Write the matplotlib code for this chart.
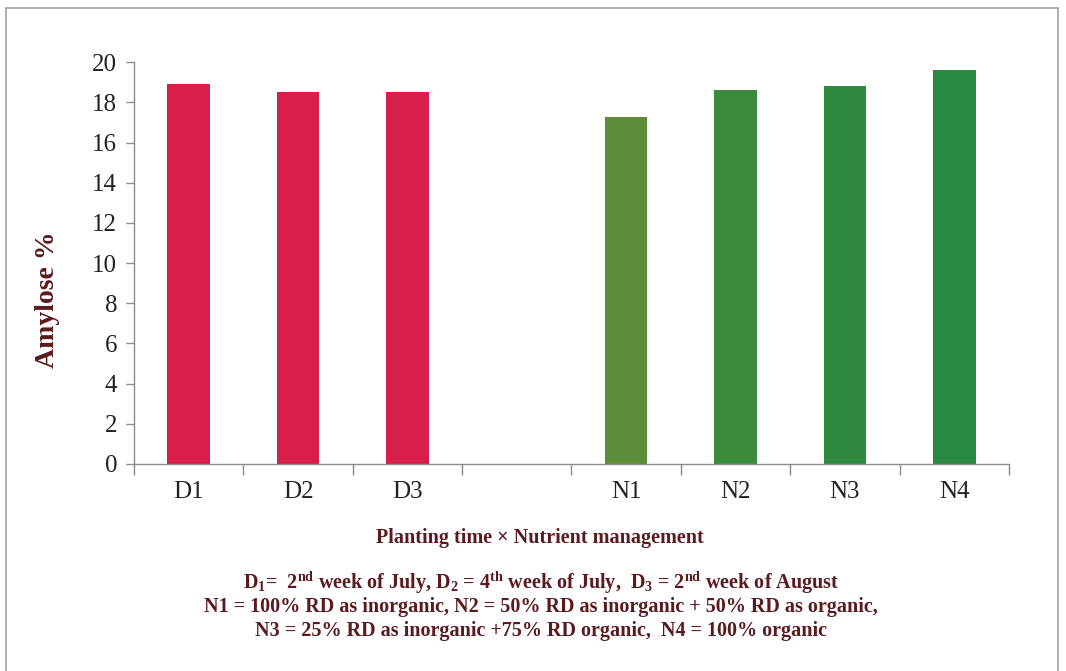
import matplotlib
matplotlib.use("Agg")
import matplotlib.pyplot as plt
from matplotlib.patches import Rectangle
import numpy as np

plt.rcParams['font.family'] = ['Liberation Serif', 'DejaVu Serif']
plt.rcParams['mathtext.fontset'] = 'custom'
plt.rcParams['mathtext.rm'] = 'Liberation Serif'
plt.rcParams['mathtext.bf'] = 'Liberation Serif:bold'
plt.rcParams['mathtext.it'] = 'Liberation Serif:italic'

# planting time and nutrient management treatments (one empty slot between groups)
categories = ["D1", "D2", "D3", "", "N1", "N2", "N3", "N4"]
amylose = [18.9, 18.5, 18.5, None, 17.3, 18.6, 18.8, 19.6]
bar_colors = ["#D81E4A", "#D81E4A", "#D81E4A", None,
              "#5E8D3A", "#3B8B3C", "#2F8A3E", "#2B8A41"]

y_ticks = list(range(0, 21, 2))

x_title = "Planting time \u00d7 Nutrient management"
notes = [
    r"$\mathbf{D_1}$=  2$^{\mathbf{nd}}$ week of July, $\mathbf{D_2}$ = 4$^{\mathbf{th}}$ week of July,  "
    r"$\mathbf{D_3}$ = 2$^{\mathbf{nd}}$ week of August",
    "N1 = 100% RD as inorganic, N2 = 50% RD as inorganic + 50% RD as organic,",
    "N3 = 25% RD as inorganic +75% RD organic,  N4 = 100% organic",
]

TEXT_RED = "#5A1A1E"
AXIS_GRAY = "#8C8C8C"

fig = plt.figure(figsize=(10.66, 6.71), dpi=100)
fig.patch.set_facecolor("white")

# thin frame around the whole chart area
fig.add_artist(Rectangle((6 / 1066, -0.02), 1052 / 1066, 1.0 - 8 / 671 + 0.02,
                         transform=fig.transFigure, fill=False,
                         edgecolor="#A8A8A8", lw=1.3))

ax = fig.add_axes([0.1257, 0.3085, 0.8208, 0.5987])

x = np.arange(len(categories))
for i, (val, col) in enumerate(zip(amylose, bar_colors)):
    if val is None:
        continue
    ax.bar(x[i], val, width=0.39, color=col, zorder=2)

ax.set_xlim(-0.5, len(categories) - 0.5)
ax.set_ylim(0, 20)

# tick marks on slot boundaries, labels at slot centres
ax.set_xticks(np.arange(len(categories) + 1) - 0.5)
ax.set_xticklabels([])
ax.set_xticks(x, minor=True)
ax.set_xticklabels(categories, minor=True)
ax.tick_params(axis="x", which="major", direction="out", length=8,
               color=AXIS_GRAY, width=1)
ax.tick_params(axis="x", which="minor", length=0, pad=12,
               labelsize=18, labelcolor="#222222")

ax.set_yticks(y_ticks)
ax.tick_params(axis="y", direction="out", length=6, color=AXIS_GRAY,
               width=1, labelsize=18, labelcolor="#222222", pad=6)

for s in ["top", "right"]:
    ax.spines[s].set_visible(False)
for s in ["left", "bottom"]:
    ax.spines[s].set_color(AXIS_GRAY)
    ax.spines[s].set_linewidth(1)

ax.set_ylabel("Amylose %", fontsize=20, fontweight="bold", color=TEXT_RED)
ax.yaxis.set_label_coords(-0.084, 0.41)

fig.text(540 / 1066, 1 - 538 / 671, x_title, ha="center", va="center",
         fontsize=14.5, fontweight="bold", color=TEXT_RED)

for k, line in enumerate(notes):
    fig.text(541 / 1066, 1 - (583 + 24 * k) / 671, line, ha="center",
             va="center", fontsize=14.5, fontweight="bold", color=TEXT_RED)

fig.savefig("out.png", dpi=100, facecolor="white")
